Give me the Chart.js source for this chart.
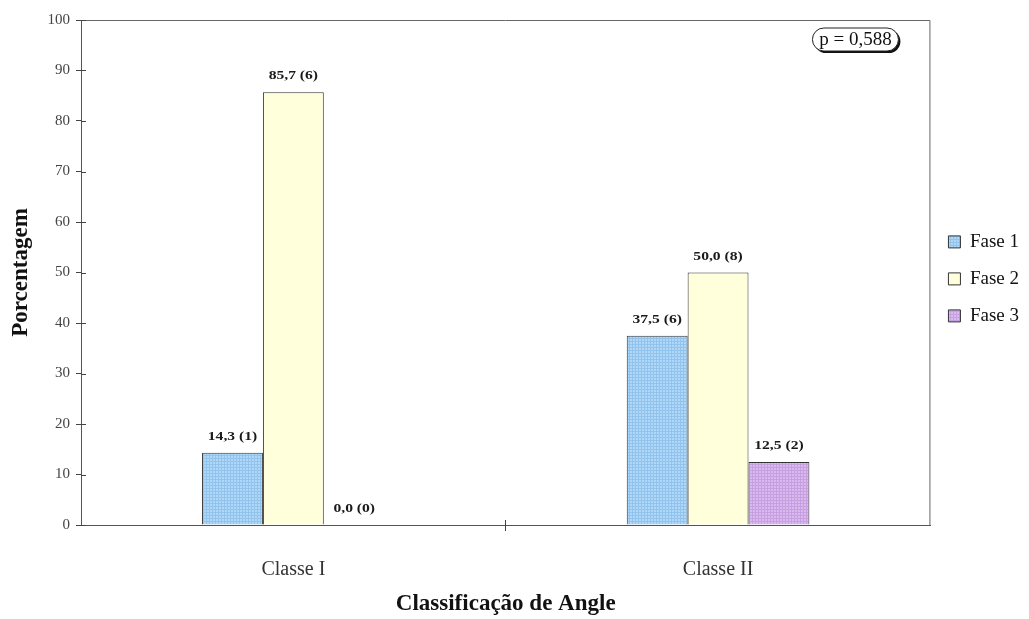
<!DOCTYPE html>
<html lang="pt">
<head>
<meta charset="utf-8">
<title>Classificação de Angle</title>
<script src="https://cdn.jsdelivr.net/npm/chart.js@4.4.1/dist/chart.umd.min.js"></script>
<style>
  html, body { margin: 0; padding: 0; background: #ffffff; }
  #wrap { position: relative; width: 1029px; height: 619px; }
</style>
</head>
<body>
<div id="wrap"><canvas id="chart"></canvas></div>
<script>
// Percentual por fase em cada classe de Angle, com o número de casos entre parênteses
const categories = ['Classe I', 'Classe II'];
const seriesNames = ['Fase 1', 'Fase 2', 'Fase 3'];
const fase1Pct = [14.3, 37.5];
const fase2Pct = [85.7, 50.0];
const fase3Pct = [0.0, 12.5];
const fase1N = [1, 6];
const fase2N = [6, 8];
const fase3N = [0, 2];
const yTicks = [0, 10, 20, 30, 40, 50, 60, 70, 80, 90, 100];
const pValueText = 'p = 0,588';

const SERIF = '"Liberation Serif", "Times New Roman", serif';

// Small checkered tile used as bar fill
function gridFill(base, line) {
  const c = document.createElement('canvas');
  c.width = 3; c.height = 3;
  const g = c.getContext('2d');
  g.fillStyle = base; g.fillRect(0, 0, 3, 3);
  g.fillStyle = line; g.fillRect(0, 2, 3, 1); g.fillRect(2, 0, 1, 3);
  return g.createPattern(c, 'repeat');
}

const fills = [
  gridFill('#afd7f7', '#92c3ec'),
  '#ffffdc',
  gridFill('#dab9ef', '#c6a0e1')
];
const counts = [fase1N, fase2N, fase3N];
const values = [fase1Pct, fase2Pct, fase3Pct];

const fmt = v => v.toFixed(1).replace('.', ',');

// Value labels above each bar: "valor (n)"
const barLabels = {
  id: 'barLabels',
  afterDatasetsDraw(chart) {
    const ctx = chart.ctx;
    ctx.save();
    ctx.fillStyle = '#1a1a1a';
    ctx.font = 'bold 12px ' + SERIF;
    ctx.textAlign = 'center';
    ctx.textBaseline = 'middle';
    chart.data.datasets.forEach((ds, di) => {
      const meta = chart.getDatasetMeta(di);
      meta.data.forEach((el, i) => {
        const txt = fmt(ds.data[i]) + ' (' + counts[di][i] + ')';
        ctx.save();
        ctx.translate(el.x, el.y - 16);
        ctx.scale(1.3, 1);
        ctx.fillText(txt, 0, 0);
        ctx.restore();
      });
    });
    ctx.restore();
  }
};

// Plot frame, inner tick halves and the p-value badge
const frame = {
  id: 'frame',
  afterDraw(chart) {
    const {ctx, chartArea: a, scales} = chart;
    ctx.save();
    ctx.strokeStyle = '#666';
    ctx.lineWidth = 1;
    ctx.beginPath();
    ctx.moveTo(a.left, a.top + 0.5);
    ctx.lineTo(a.right - 0.5, a.top + 0.5);
    ctx.lineTo(a.right - 0.5, a.bottom);
    ctx.stroke();

    // inner part of the y ticks
    ctx.strokeStyle = '#444';
    ctx.beginPath();
    scales.y.ticks.forEach(t => {
      const y = Math.round(scales.y.getPixelForValue(t.value)) + 0.5;
      ctx.moveTo(a.left, y);
      ctx.lineTo(a.left + 5, y);
    });
    // category separators on the x axis
    const xs = scales.x;
    for (let i = 1; i < categories.length; i++) {
      const x = Math.round((xs.getPixelForValue(i - 1) + xs.getPixelForValue(i)) / 2) - 0.5;
      ctx.moveTo(x, a.bottom - 5);
      ctx.lineTo(x, a.bottom + 6);
    }
    ctx.stroke();

    // rounded badge with a drop shadow
    const w = 86, h = 23;
    const bx = a.right - 118, by = a.top + 8;
    const r = h / 2;
    ctx.fillStyle = '#111';
    ctx.beginPath();
    ctx.roundRect(bx + 2, by + 2, w, h, r);
    ctx.fill();
    ctx.fillStyle = '#ffffff';
    ctx.strokeStyle = '#222';
    ctx.beginPath();
    ctx.roundRect(bx, by, w, h, r);
    ctx.fill();
    ctx.stroke();
    ctx.fillStyle = '#111';
    ctx.font = '19px ' + SERIF;
    ctx.textAlign = 'center';
    ctx.textBaseline = 'middle';
    ctx.fillText(pValueText, bx + w / 2, by + h / 2 + 1);
    ctx.restore();
  }
};

new Chart(document.getElementById('chart'), {
  type: 'bar',
  data: {
    labels: categories,
    datasets: seriesNames.map((name, i) => ({
      label: name,
      data: values[i],
      backgroundColor: fills[i],
      borderColor: '#333',
      borderWidth: 1,
      barPercentage: 1,
      categoryPercentage: 0.43
    }))
  },
  options: {
    responsive: true,
    maintainAspectRatio: false,
    devicePixelRatio: 1,
    animation: false,
    layout: { padding: { top: 20, left: 0, right: 0, bottom: 0 } },
    plugins: {
      tooltip: { enabled: false },
      legend: {
        position: 'right',
        align: 'start',
        title: { display: true, text: '', padding: { top: 180, bottom: 0 } },
        labels: {
          boxWidth: 12,
          boxHeight: 12,
          padding: 18,
          color: '#111',
          font: { family: SERIF, size: 19 }
        }
      }
    },
    scales: {
      x: {
        afterFit(s) { s.height = 94; },
        border: { color: '#555', width: 1 },
        grid: { display: false },
        ticks: {
          color: '#333',
          padding: 25,
          font: { family: SERIF, size: 20 }
        },
        title: {
          display: true,
          text: 'Classificação de Angle',
          color: '#111',
          padding: { top: 0, bottom: 1 },
          font: { family: SERIF, size: 23, weight: 'bold' }
        }
      },
      y: {
        min: 0,
        max: 100,
        afterFit(s) { s.width = 81; },
        afterBuildTicks(s) { s.ticks = yTicks.map(v => ({ value: v })); },
        border: { color: '#555', width: 1 },
        grid: { drawOnChartArea: false, tickLength: 5, color: '#444' },
        ticks: {
          color: '#444',
          padding: 6,
          font: { family: SERIF, size: 15 }
        },
        title: {
          display: true,
          text: 'Porcentagem',
          color: '#111',
          padding: { top: 7, bottom: 0 },
          font: { family: SERIF, size: 23, weight: 'bold' }
        }
      }
    }
  },
  plugins: [barLabels, frame]
});
</script>
</body>
</html>
